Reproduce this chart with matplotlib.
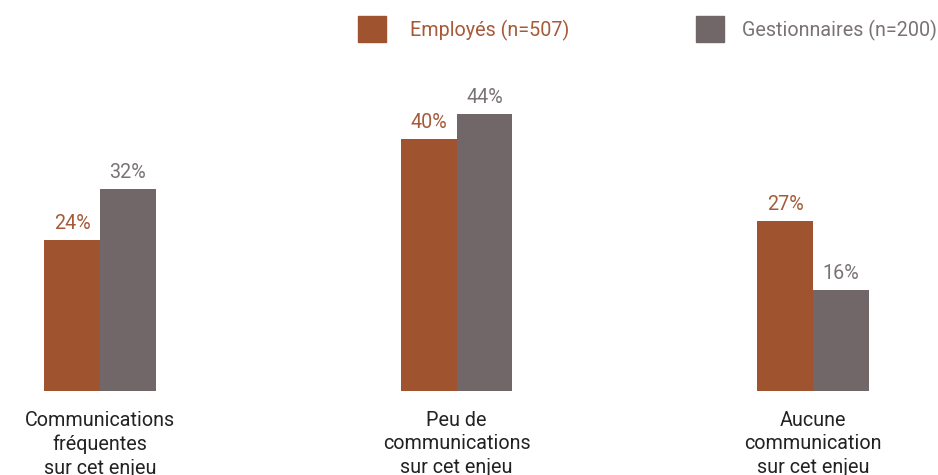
import matplotlib
matplotlib.use('Agg')
import numpy as np
import matplotlib.pyplot as plt
from matplotlib.patches import Rectangle

plt.rcParams['font.family'] = ['Roboto', 'DejaVu Sans']

categories = ['Communications\nfréquentes\nsur cet enjeu',
              'Peu de\ncommunications\nsur cet enjeu',
              'Aucune\ncommunication\nsur cet enjeu']
employes = [24, 40, 27]
gestionnaires = [32, 44, 16]
series_names = ['Employés (n=507)', 'Gestionnaires (n=200)']

col_emp = '#A0532F'
col_gest = '#716769'
txt_emp = '#A65A3A'
txt_gest = '#7A7374'
fs = 14.2

fig = plt.figure(figsize=(9.38, 4.75), dpi=100)
ax = fig.add_axes([0, 84 / 475, 1, 391 / 475])

x = np.arange(len(categories))
w = 0.157
b1 = ax.bar(x - w / 2, employes, w, color=col_emp)
b2 = ax.bar(x + w / 2, gestionnaires, w, color=col_gest)

for bars, vals, c in [(b1, employes, txt_emp), (b2, gestionnaires, txt_gest)]:
    for bar, v in zip(bars, vals):
        ax.annotate(f'{v}%', (bar.get_x() + bar.get_width() / 2, v),
                    xytext=(0, 8), textcoords='offset points',
                    ha='center', va='baseline', fontsize=fs, color=c)

ax.set_xlim(-0.2805, 2.3506)
ax.set_ylim(0, 391 / 6.3)
ax.set_xticks(x)
ax.set_xticklabels(categories, fontsize=fs, color='#222222', linespacing=1.29)
ax.tick_params(axis='x', length=0, pad=14.5)
ax.set_yticks([])
for s in ax.spines.values():
    s.set_visible(False)

# legend drawn by hand across the top
for sx, tx, c, tc, name in [(358, 410, col_emp, txt_emp, series_names[0]),
                            (696, 742, col_gest, txt_gest, series_names[1])]:
    fig.add_artist(Rectangle((sx / 938, 1 - 42 / 475), 28 / 938, 26 / 475,
                             transform=fig.transFigure, color=c))
    fig.text(tx / 938, 1 - 30 / 475, name, ha='left', va='center',
             fontsize=fs, color=tc)

fig.savefig('out.png', dpi=100)
